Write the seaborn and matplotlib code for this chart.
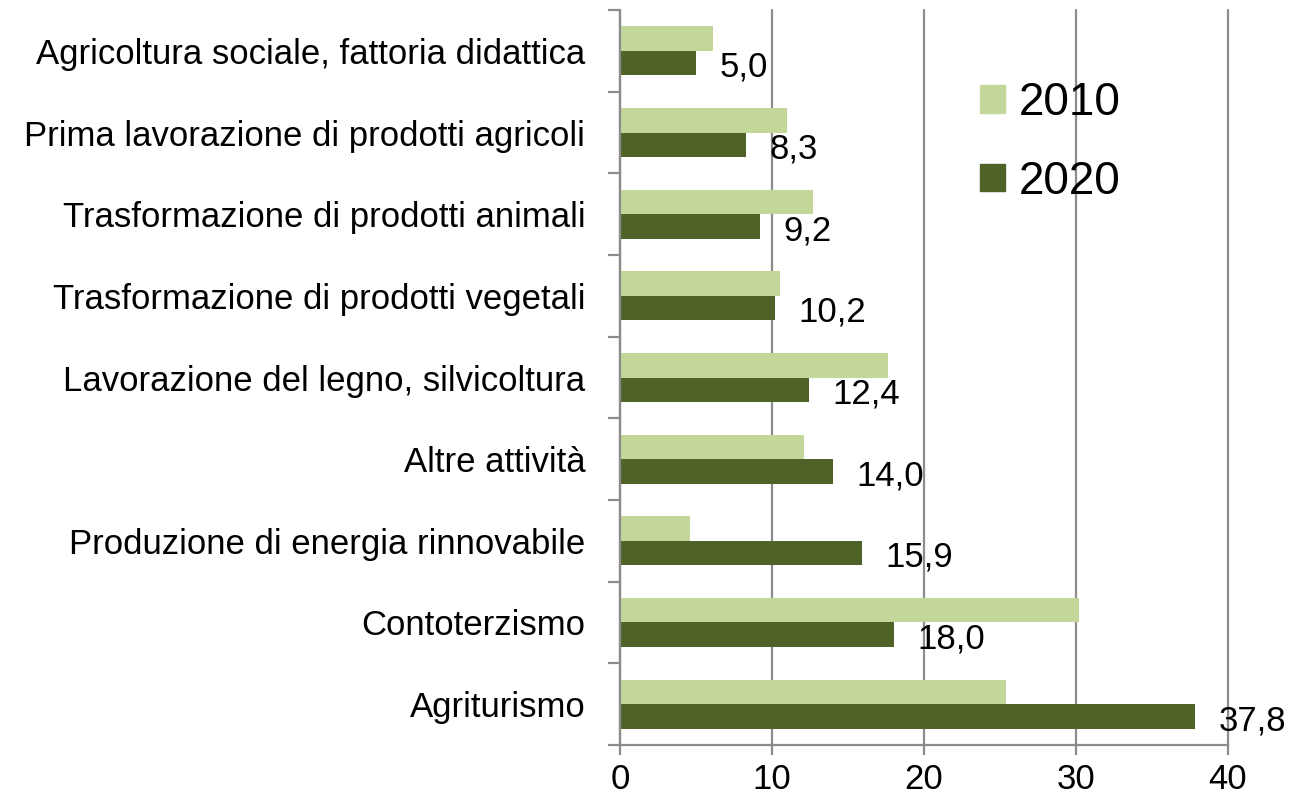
import numpy as np
import pandas as pd
import matplotlib
matplotlib.use("Agg")
import matplotlib.pyplot as plt
import seaborn as sns

categories = [
    "Agricoltura sociale, fattoria didattica",
    "Prima lavorazione di prodotti agricoli",
    "Trasformazione di prodotti animali",
    "Trasformazione di prodotti vegetali",
    "Lavorazione del legno, silvicoltura",
    "Altre attività",
    "Produzione di energia rinnovabile",
    "Contoterzismo",
    "Agriturismo",
]
values_2010 = [6.1, 11.0, 12.7, 10.5, 17.6, 12.1, 4.6, 30.2, 25.4]
values_2020 = [5.0, 8.3, 9.2, 10.2, 12.4, 14.0, 15.9, 18.0, 37.8]
years = ["2010", "2020"]
xticks = [0, 10, 20, 30, 40]

df = pd.DataFrame({
    "categoria": categories * 2,
    "valore": values_2010 + values_2020,
    "anno": ["2010"] * len(categories) + ["2020"] * len(categories),
})

sns.set_style("white")
plt.rcParams['font.family'] = ['Liberation Sans', 'DejaVu Sans']
plt.rcParams['text.color'] = 'black'
plt.rcParams['xtick.color'] = 'black'
plt.rcParams['ytick.color'] = 'black'

palette = {"2010": "#C4D79B", "2020": "#4F6228"}
grid_col = "#8C8C8C"

fig = plt.figure(figsize=(13.07, 8.02), dpi=100)
ax = fig.add_axes([0.4744, 0.0711, 0.9396 - 0.4744, 0.9875 - 0.0711])

sns.barplot(data=df, y="categoria", x="valore", hue="anno", hue_order=years,
            order=categories, palette=palette, orient="h", width=0.6,
            ax=ax, legend=False, saturation=1, edgecolor="none", linewidth=0)

ax.set_xlim(0, 40)
ax.set_ylim(len(categories) - 0.5, -0.5)
ax.set_xticks(xticks)
ax.set_xticklabels([str(t) for t in xticks], fontsize=25)
ax.set_xlabel("")
ax.set_ylabel("")
ax.tick_params(axis="y", which="major", left=True, length=0, pad=25, labelsize=25)
ax.set_yticks(np.arange(-0.5, len(categories), 1.0), minor=True)
ax.tick_params(axis="y", which="minor", left=True, length=9, width=1.6, color=grid_col, direction="out")
ax.tick_params(axis="x", which="major", bottom=True, length=7, width=1.6, color=grid_col, direction="out", pad=6)

ax.xaxis.grid(True, color=grid_col, linewidth=1.6)
for gl in ax.get_xgridlines():
    gl.set_clip_on(False)
ax.set_axisbelow(True)
for side in ["top", "right"]:
    ax.spines[side].set_visible(False)
for side in ["left", "bottom"]:
    ax.spines[side].set_color(grid_col)
    ax.spines[side].set_linewidth(1.6)

# etichette solo per il 2020
for i, v in enumerate(values_2020):
    ax.annotate(f"{v:.1f}".replace(".", ","), xy=(v, i + 0.15), xytext=(17, -3),
                textcoords="offset points", ha="left", va="center", fontsize=25)

handles = [plt.Rectangle((0, 0), 1, 1, color=palette[y]) for y in years]
fig.legend(handles, years, loc="upper left", bbox_to_anchor=(0.718, 0.95),
           frameon=False, fontsize=33, handlelength=0.55, handleheight=0.55,
           handletextpad=0.3, labelspacing=0.75)

fig.savefig("out.png", dpi=100)
